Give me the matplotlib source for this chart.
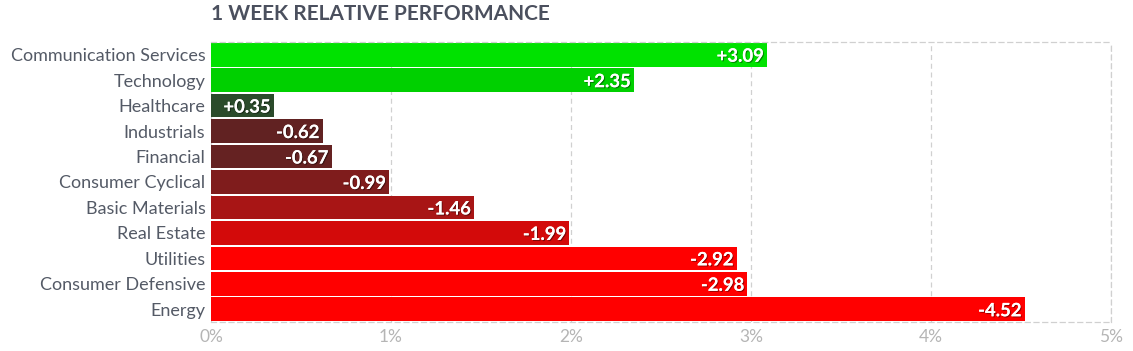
import matplotlib
matplotlib.use("Agg")
import matplotlib.pyplot as plt
import matplotlib.patheffects as pe

plt.rcParams['font.family'] = ['Lato', 'DejaVu Sans']

sectors = ["Communication Services", "Technology", "Healthcare", "Industrials",
           "Financial", "Consumer Cyclical", "Basic Materials", "Real Estate",
           "Utilities", "Consumer Defensive", "Energy"]
values = [3.09, 2.35, 0.35, -0.62, -0.67, -0.99, -1.46, -1.99, -2.92, -2.98, -4.52]
bar_colors = ["#00e200", "#00d000", "#2b4b2b", "#612222", "#652222", "#7f1c1c",
              "#a81515", "#d30a0a", "#ff0000", "#ff0000", "#ff0000"]
x_ticks = [0, 1, 2, 3, 4, 5]
x_ticklabels = ["0%", "1%", "2%", "3%", "4%", "5%"]
title = "1 WEEK RELATIVE PERFORMANCE"

fig = plt.figure(figsize=(11.33, 3.51), dpi=100)
ax = fig.add_axes([211/1133, 1-322/351, 900/1133, 280/351])

ypos = list(range(len(sectors)))
lengths = [abs(v) for v in values]
ax.barh(ypos, lengths, height=0.93, color=bar_colors, zorder=2)

for y, v, l in zip(ypos, values, lengths):
    lab = f"{v:+.2f}"
    ax.text(l - 0.018, y, lab, ha='right', va='center_baseline', color='white',
            fontsize=13.3, fontweight='bold', zorder=3,
            path_effects=[pe.withSimplePatchShadow(offset=(0.8, -0.8), shadow_rgbFace='black', alpha=0.4),
                          pe.Normal()])

ax.set_xlim(0, 5)
ax.set_ylim(len(sectors) - 0.5, -0.5)
ax.set_yticks(ypos)
ax.set_yticklabels(sectors, fontsize=13, color='#545a66')
ax.set_xticks(x_ticks)
ax.set_xticklabels(x_ticklabels, fontsize=12.5, color='#b5b5b5')
ax.tick_params(axis='both', length=0)
ax.tick_params(axis='y', pad=4)
ax.tick_params(axis='x', pad=5)
ax.grid(axis='x', color='#d0d0d0', linestyle=(0, (4, 3)), linewidth=0.9, zorder=0)
for s in ax.spines.values():
    s.set_color('#d0d0d0')
    s.set_linestyle((0, (4, 3)))
    s.set_linewidth(0.9)
ax.spines['left'].set_visible(False)

fig.text(211/1133, 1-14/351, title, ha='left', va='center', fontsize=15,
         fontweight='bold', color='#4b505e')

fig.savefig("out.png", dpi=100)
